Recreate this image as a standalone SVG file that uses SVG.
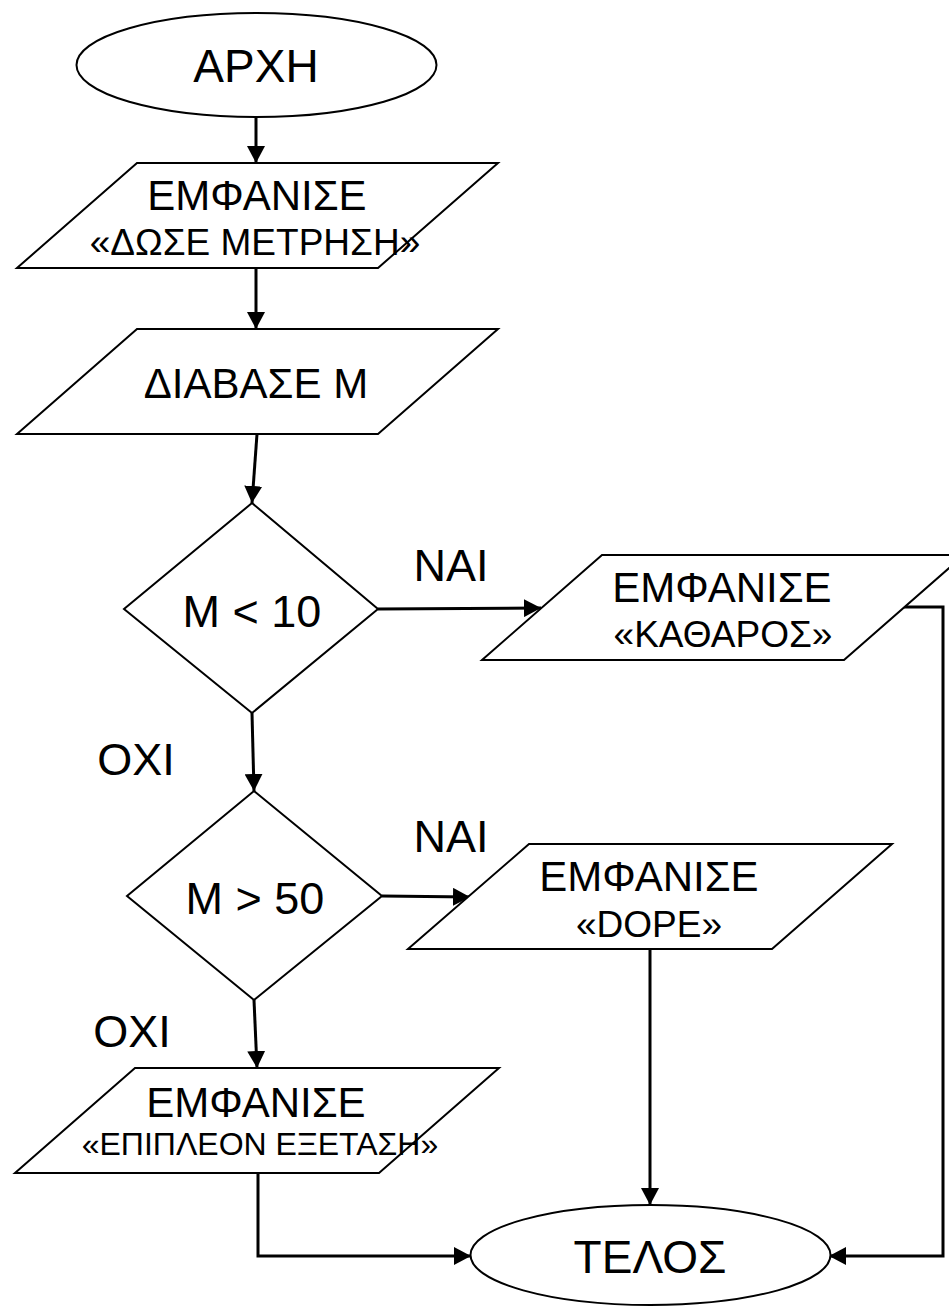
<svg xmlns="http://www.w3.org/2000/svg" width="949" height="1306" viewBox="0 0 949 1306">
  <defs>
    <marker id="arrow" markerUnits="userSpaceOnUse" markerWidth="18" markerHeight="18" viewBox="0 0 18 18" refX="17" refY="9" orient="auto">
      <path d="M0,0 L17,9 L0,18 Z" fill="#000"/>
    </marker>
    <style>
      .shape { fill: #fff; stroke: #000; stroke-width: 2; stroke-linejoin: miter; }
      .conn { fill: none; stroke: #000; stroke-width: 3; }
      .arr { marker-end: url(#arrow); }
      text { font-family: "Liberation Sans", Arial, sans-serif; fill: #000; text-anchor: middle; }
      .big { font-size: 46px; }
      .t41 { font-size: 42px; }
      .t36 { font-size: 37px; }
      .lbl { font-size: 45px; }
    </style>
  </defs>

  <g id="connectors">
    <path class="conn arr" d="M256,117 L256,163"/>
    <path class="conn arr" d="M256,268 L256,329"/>
    <path class="conn arr" d="M257,434 L252,503"/>
    <path class="conn arr" d="M378,609 L541,608"/>
    <path class="conn arr" d="M252,713 L254,791"/>
    <path class="conn arr" d="M382,896 L470,897"/>
    <path class="conn arr" d="M254,1000 L257,1068"/>
    <path class="conn arr" d="M650,949 L650,1205"/>
    <path class="conn arr" d="M258,1173 L258,1256 L471,1256"/>
    <path class="conn arr" d="M903,607 L943,607 L943,1256 L829,1256"/>
  </g>

  <g id="start">
    <ellipse class="shape" cx="256.5" cy="65" rx="180" ry="52"/>
    <text class="big" x="256" y="82">ΑΡΧΗ</text>
  </g>

  <g id="show-prompt">
    <polygon class="shape" points="137,163 498,163 378,268 17,268"/>
    <text class="t41" x="257" y="210">ΕΜΦΑΝΙΣΕ</text>
    <text class="t36" x="255" y="255">«ΔΩΣΕ ΜΕΤΡΗΣΗ»</text>
  </g>

  <g id="read-m">
    <polygon class="shape" points="137,329 498,329 378,434 17,434"/>
    <text style="font-size:42px" x="256" y="398">ΔΙΑΒΑΣΕ Μ</text>
  </g>

  <g id="cond1">
    <polygon class="shape" points="252,503 378,609 252,713 124,609"/>
    <text class="lbl" x="252" y="627">Μ &lt; 10</text>
  </g>

  <g id="show-clean">
    <polygon class="shape" points="602,555 964,555 844,660 482,660"/>
    <text class="t41" x="722" y="602">ΕΜΦΑΝΙΣΕ</text>
    <text class="t36" x="723" y="647">«ΚΑΘΑΡΟΣ»</text>
  </g>

  <g id="cond2">
    <polygon class="shape" points="254,791 382,896 254,1000 127,896"/>
    <text class="lbl" x="255" y="914">Μ &gt; 50</text>
  </g>

  <g id="show-dope">
    <polygon class="shape" points="529,844 892,844 772,949 408,949"/>
    <text class="t41" x="649" y="891">ΕΜΦΑΝΙΣΕ</text>
    <text class="t36" x="649" y="937">«DOPE»</text>
  </g>

  <g id="show-more">
    <polygon class="shape" points="135,1068 499,1068 379,1173 15,1173"/>
    <text class="t41" x="256" y="1117">ΕΜΦΑΝΙΣΕ</text>
    <text style="font-size:32px" x="260" y="1155">«ΕΠΙΠΛΕΟΝ ΕΞΕΤΑΣΗ»</text>
  </g>

  <g id="end">
    <ellipse class="shape" cx="650.5" cy="1255" rx="180" ry="50"/>
    <text class="big" x="650" y="1273">ΤΕΛΟΣ</text>
  </g>

  <g id="labels">
    <text class="lbl" x="451" y="581">ΝΑΙ</text>
    <text class="lbl" x="136" y="775">ΟΧΙ</text>
    <text class="lbl" x="451" y="852">ΝΑΙ</text>
    <text class="lbl" x="132" y="1047">ΟΧΙ</text>
  </g>
</svg>
